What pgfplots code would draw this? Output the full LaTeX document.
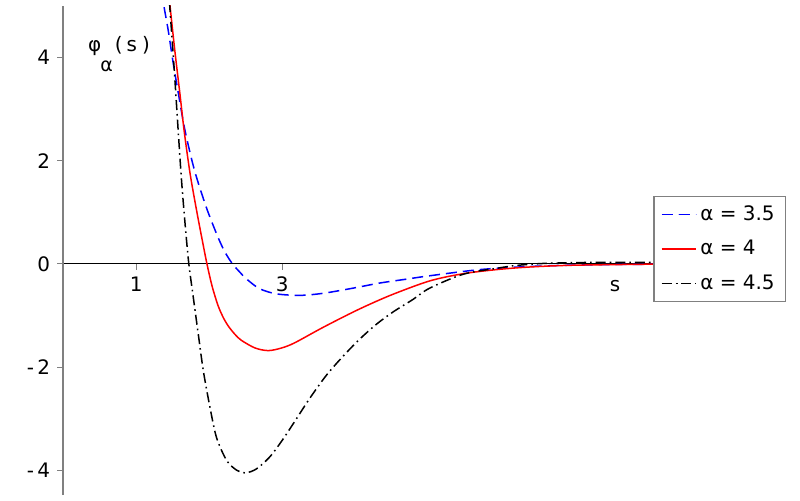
\documentclass[border=0pt]{standalone}
\usepackage{pgfplots}
\pgfplotsset{compat=1.18}
\usepackage{fontspec}
\setmainfont{DejaVu Sans}

\begin{document}
\begin{tikzpicture}
\begin{axis}[
    scale only axis,
    width=294.85bp, height=244.5bp,
    xmin=0, xmax=8.08, ymin=-4.48, ymax=5,
    axis lines=middle,
    axis line style={-},
    hide obscured x ticks=false,
    hide obscured y ticks=false,
    x axis line style={draw=black, line width=0.5bp},
    y axis line style={draw=gray, line width=1.1bp},
    tick align=outside,
    major tick length=3bp,
    tick style={gray, line width=0.5bp},
    xtick={1,3},
    ytick={-4,-2,0,2,4},
    yticklabels={{-\,4},{-\,2},0,2,4},
    /pgf/number format/assume math mode=true,
    xlabel={s},
    ylabel={φ\hspace{-0.5bp}\raisebox{-10bp}{\fontsize{9.5bp}{10bp}\selectfont α}\hspace{1bp}(\hspace{2bp}s\hspace{2.5bp})},
    every axis x label/.style={at={(rel axis cs:0.9356,0.4264)}, anchor=center},
    every axis y label/.style={at={(rel axis cs:0.0419,0.9066)}, anchor=base west, inner sep=0pt},
    legend cell align=left,
    legend style={at={(rel axis cs:1,0.503)}, anchor=west, draw=gray,
        line width=0.75bp, row sep=4.5bp, inner xsep=3.5bp, inner ysep=2.5bp},
]
\addplot[blue, line width=0.75bp, dash pattern=on 5.5bp off 3bp, smooth] coordinates {
    (1.35,5.3) (1.38,5.0) (1.44,4.52) (1.51,3.87) (1.58,3.29) (1.67,2.58)
    (1.80,1.81) (1.96,1.10) (2.12,0.52) (2.22,0.22) (2.32,0) (2.42,-0.16)
    (2.51,-0.29) (2.69,-0.48) (2.92,-0.58) (3.24,-0.61) (3.56,-0.57)
    (3.97,-0.47) (4.34,-0.37) (4.68,-0.30) (5.02,-0.23) (5.71,-0.11)
    (6.39,-0.05) (7.1,-0.02) (8.08,-0.005)
};
\addplot[red, line width=0.75bp, smooth] coordinates {
    (1.44,5.35) (1.464,5.0) (1.53,4.13) (1.60,3.29) (1.66,2.55) (1.74,1.74)
    (1.83,1.02) (1.90,0.50) (1.97,0) (2.04,-0.43) (2.12,-0.80) (2.19,-1.03)
    (2.26,-1.20) (2.35,-1.36) (2.44,-1.48) (2.63,-1.63) (2.81,-1.68)
    (2.99,-1.63) (3.17,-1.53) (3.56,-1.23) (4.02,-0.90) (4.48,-0.61)
    (5.02,-0.33) (5.48,-0.19) (5.94,-0.11) (6.39,-0.06) (7.0,-0.025)
    (8.08,-0.005)
};
\addplot[black, line width=0.75bp, dash pattern=on 5bp off 2bp on 0.8bp off 2bp, smooth] coordinates {
    (1.44,5.45) (1.46,5.0) (1.52,3.8) (1.575,2.6) (1.62,1.65) (1.67,0.78)
    (1.72,0.02) (1.78,-0.62) (1.85,-1.35) (1.92,-2.07) (2.01,-2.77)
    (2.10,-3.36) (2.24,-3.81) (2.38,-4.0) (2.50,-4.05) (2.65,-3.97)
    (2.83,-3.74) (3.0,-3.42) (3.15,-3.10) (3.38,-2.60) (3.61,-2.15)
    (3.84,-1.78) (4.06,-1.46) (4.29,-1.17) (4.52,-0.93) (4.79,-0.69)
    (5.02,-0.47) (5.48,-0.20) (5.94,-0.085) (6.21,-0.03) (6.6,0.01)
    (7.3,0.03) (8.08,0.03)
};
\legend{α = 3.5, α = 4, α = 4.5}
\coordinate (bbsw) at (rel axis cs:-0.107,-0.0102);
\coordinate (bbne) at (rel axis cs:1.249,1.012);
\end{axis}
\pgfresetboundingbox
\path[use as bounding box] (bbsw) rectangle (bbne);
\end{tikzpicture}
\end{document}
